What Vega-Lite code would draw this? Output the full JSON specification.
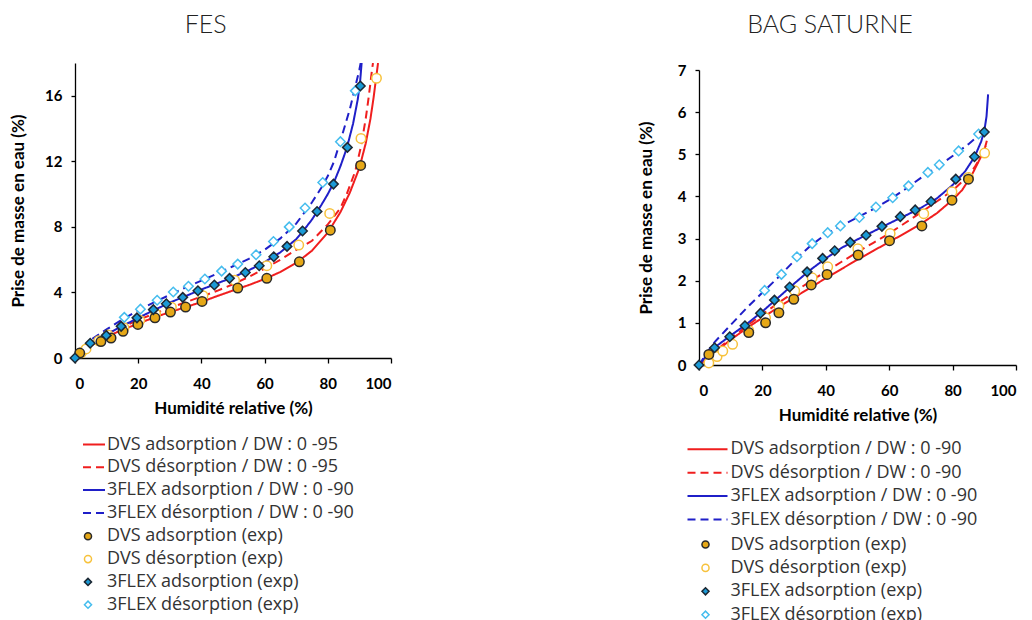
{
  "$schema": "https://vega.github.io/schema/vega-lite/v6.json",
  "background": "white",
  "padding": {"left": 9, "top": 13, "right": 5, "bottom": 0},
  "spacing": 245,
  "config": {
    "view": {"stroke": null},
    "axis": {
      "grid": false, "domainColor": "#000", "tickColor": "#000", "domainWidth": 1.3, "tickWidth": 1.3,
      "labelFont": "Lato", "labelFontWeight": "bold", "labelFontSize": 15, "labelColor": "#000",
      "titleFont": "Lato", "titleFontWeight": "bold", "titleFontSize": 17, "titleColor": "#000"
    },
    "title": {"font": "Lato", "fontWeight": 300, "fontSize": 25, "color": "#222", "anchor": "middle", "frame": "bounds"}
  },
  "datasets": {
    "fesFit": [
      {"fit": "DVS adsorption / DW : 0 -95", "rh": 0, "w": 0},
      {"fit": "DVS adsorption / DW : 0 -95", "rh": 2, "w": 0.35},
      {"fit": "DVS adsorption / DW : 0 -95", "rh": 5, "w": 0.75},
      {"fit": "DVS adsorption / DW : 0 -95", "rh": 10, "w": 1.3},
      {"fit": "DVS adsorption / DW : 0 -95", "rh": 15, "w": 1.72},
      {"fit": "DVS adsorption / DW : 0 -95", "rh": 20, "w": 2.1},
      {"fit": "DVS adsorption / DW : 0 -95", "rh": 25, "w": 2.47},
      {"fit": "DVS adsorption / DW : 0 -95", "rh": 30, "w": 2.8},
      {"fit": "DVS adsorption / DW : 0 -95", "rh": 35, "w": 3.1},
      {"fit": "DVS adsorption / DW : 0 -95", "rh": 40, "w": 3.42},
      {"fit": "DVS adsorption / DW : 0 -95", "rh": 45, "w": 3.78},
      {"fit": "DVS adsorption / DW : 0 -95", "rh": 50, "w": 4.12},
      {"fit": "DVS adsorption / DW : 0 -95", "rh": 55, "w": 4.45},
      {"fit": "DVS adsorption / DW : 0 -95", "rh": 60, "w": 4.82},
      {"fit": "DVS adsorption / DW : 0 -95", "rh": 65, "w": 5.25},
      {"fit": "DVS adsorption / DW : 0 -95", "rh": 70, "w": 5.8},
      {"fit": "DVS adsorption / DW : 0 -95", "rh": 75, "w": 6.55},
      {"fit": "DVS adsorption / DW : 0 -95", "rh": 80, "w": 7.65},
      {"fit": "DVS adsorption / DW : 0 -95", "rh": 84, "w": 8.9},
      {"fit": "DVS adsorption / DW : 0 -95", "rh": 87, "w": 10.1},
      {"fit": "DVS adsorption / DW : 0 -95", "rh": 90, "w": 11.6},
      {"fit": "DVS adsorption / DW : 0 -95", "rh": 92, "w": 13.1},
      {"fit": "DVS adsorption / DW : 0 -95", "rh": 93.5, "w": 14.6},
      {"fit": "DVS adsorption / DW : 0 -95", "rh": 94.5, "w": 15.9},
      {"fit": "DVS adsorption / DW : 0 -95", "rh": 95.3, "w": 17.1},
      {"fit": "DVS adsorption / DW : 0 -95", "rh": 95.9, "w": 18},
      {"fit": "DVS désorption / DW : 0 -95", "rh": 0, "w": 0},
      {"fit": "DVS désorption / DW : 0 -95", "rh": 2, "w": 0.4},
      {"fit": "DVS désorption / DW : 0 -95", "rh": 5, "w": 0.9},
      {"fit": "DVS désorption / DW : 0 -95", "rh": 10, "w": 1.45},
      {"fit": "DVS désorption / DW : 0 -95", "rh": 15, "w": 1.9},
      {"fit": "DVS désorption / DW : 0 -95", "rh": 20, "w": 2.32},
      {"fit": "DVS désorption / DW : 0 -95", "rh": 25, "w": 2.7},
      {"fit": "DVS désorption / DW : 0 -95", "rh": 30, "w": 3.05},
      {"fit": "DVS désorption / DW : 0 -95", "rh": 35, "w": 3.4},
      {"fit": "DVS désorption / DW : 0 -95", "rh": 40, "w": 3.75},
      {"fit": "DVS désorption / DW : 0 -95", "rh": 45, "w": 4.1},
      {"fit": "DVS désorption / DW : 0 -95", "rh": 50, "w": 4.5},
      {"fit": "DVS désorption / DW : 0 -95", "rh": 55, "w": 4.95},
      {"fit": "DVS désorption / DW : 0 -95", "rh": 60, "w": 5.45},
      {"fit": "DVS désorption / DW : 0 -95", "rh": 65, "w": 6.0},
      {"fit": "DVS désorption / DW : 0 -95", "rh": 70, "w": 6.6},
      {"fit": "DVS désorption / DW : 0 -95", "rh": 75, "w": 7.15},
      {"fit": "DVS désorption / DW : 0 -95", "rh": 80, "w": 8.15},
      {"fit": "DVS désorption / DW : 0 -95", "rh": 84, "w": 9.15},
      {"fit": "DVS désorption / DW : 0 -95", "rh": 86, "w": 10.0},
      {"fit": "DVS désorption / DW : 0 -95", "rh": 88.7, "w": 11.4},
      {"fit": "DVS désorption / DW : 0 -95", "rh": 90.5, "w": 12.9},
      {"fit": "DVS désorption / DW : 0 -95", "rh": 92, "w": 14.6},
      {"fit": "DVS désorption / DW : 0 -95", "rh": 93, "w": 16.0},
      {"fit": "DVS désorption / DW : 0 -95", "rh": 94, "w": 17.6},
      {"fit": "DVS désorption / DW : 0 -95", "rh": 94.3, "w": 18},
      {"fit": "3FLEX adsorption / DW : 0 -90", "rh": 0, "w": 0},
      {"fit": "3FLEX adsorption / DW : 0 -90", "rh": 2, "w": 0.45},
      {"fit": "3FLEX adsorption / DW : 0 -90", "rh": 5, "w": 0.95},
      {"fit": "3FLEX adsorption / DW : 0 -90", "rh": 10, "w": 1.45},
      {"fit": "3FLEX adsorption / DW : 0 -90", "rh": 15, "w": 1.95},
      {"fit": "3FLEX adsorption / DW : 0 -90", "rh": 20, "w": 2.45},
      {"fit": "3FLEX adsorption / DW : 0 -90", "rh": 25, "w": 2.92},
      {"fit": "3FLEX adsorption / DW : 0 -90", "rh": 30, "w": 3.38},
      {"fit": "3FLEX adsorption / DW : 0 -90", "rh": 35, "w": 3.78},
      {"fit": "3FLEX adsorption / DW : 0 -90", "rh": 40, "w": 4.18},
      {"fit": "3FLEX adsorption / DW : 0 -90", "rh": 45, "w": 4.55},
      {"fit": "3FLEX adsorption / DW : 0 -90", "rh": 50, "w": 4.93},
      {"fit": "3FLEX adsorption / DW : 0 -90", "rh": 55, "w": 5.35},
      {"fit": "3FLEX adsorption / DW : 0 -90", "rh": 60, "w": 5.85},
      {"fit": "3FLEX adsorption / DW : 0 -90", "rh": 65, "w": 6.45},
      {"fit": "3FLEX adsorption / DW : 0 -90", "rh": 70, "w": 7.25},
      {"fit": "3FLEX adsorption / DW : 0 -90", "rh": 72, "w": 7.7},
      {"fit": "3FLEX adsorption / DW : 0 -90", "rh": 75, "w": 8.45},
      {"fit": "3FLEX adsorption / DW : 0 -90", "rh": 78, "w": 9.35},
      {"fit": "3FLEX adsorption / DW : 0 -90", "rh": 80, "w": 10.0},
      {"fit": "3FLEX adsorption / DW : 0 -90", "rh": 82, "w": 10.75},
      {"fit": "3FLEX adsorption / DW : 0 -90", "rh": 84, "w": 11.7},
      {"fit": "3FLEX adsorption / DW : 0 -90", "rh": 86, "w": 12.8},
      {"fit": "3FLEX adsorption / DW : 0 -90", "rh": 88, "w": 14.3},
      {"fit": "3FLEX adsorption / DW : 0 -90", "rh": 89.5, "w": 15.8},
      {"fit": "3FLEX adsorption / DW : 0 -90", "rh": 90.2, "w": 16.8},
      {"fit": "3FLEX adsorption / DW : 0 -90", "rh": 90.7, "w": 18},
      {"fit": "3FLEX désorption / DW : 0 -90", "rh": 0, "w": 0},
      {"fit": "3FLEX désorption / DW : 0 -90", "rh": 2, "w": 0.55},
      {"fit": "3FLEX désorption / DW : 0 -90", "rh": 5, "w": 1.1},
      {"fit": "3FLEX désorption / DW : 0 -90", "rh": 10, "w": 1.75},
      {"fit": "3FLEX désorption / DW : 0 -90", "rh": 15, "w": 2.35},
      {"fit": "3FLEX désorption / DW : 0 -90", "rh": 20, "w": 2.9},
      {"fit": "3FLEX désorption / DW : 0 -90", "rh": 25, "w": 3.4},
      {"fit": "3FLEX désorption / DW : 0 -90", "rh": 30, "w": 3.85},
      {"fit": "3FLEX désorption / DW : 0 -90", "rh": 35, "w": 4.3},
      {"fit": "3FLEX désorption / DW : 0 -90", "rh": 40, "w": 4.72},
      {"fit": "3FLEX désorption / DW : 0 -90", "rh": 45, "w": 5.15},
      {"fit": "3FLEX désorption / DW : 0 -90", "rh": 50, "w": 5.6},
      {"fit": "3FLEX désorption / DW : 0 -90", "rh": 55, "w": 6.05},
      {"fit": "3FLEX désorption / DW : 0 -90", "rh": 60, "w": 6.6},
      {"fit": "3FLEX désorption / DW : 0 -90", "rh": 65, "w": 7.3},
      {"fit": "3FLEX désorption / DW : 0 -90", "rh": 70, "w": 8.2},
      {"fit": "3FLEX désorption / DW : 0 -90", "rh": 75, "w": 9.5},
      {"fit": "3FLEX désorption / DW : 0 -90", "rh": 78, "w": 10.4},
      {"fit": "3FLEX désorption / DW : 0 -90", "rh": 80, "w": 11.1},
      {"fit": "3FLEX désorption / DW : 0 -90", "rh": 82, "w": 12.0},
      {"fit": "3FLEX désorption / DW : 0 -90", "rh": 85, "w": 13.9},
      {"fit": "3FLEX désorption / DW : 0 -90", "rh": 87, "w": 15.2},
      {"fit": "3FLEX désorption / DW : 0 -90", "rh": 88.5, "w": 16.4},
      {"fit": "3FLEX désorption / DW : 0 -90", "rh": 90, "w": 17.6},
      {"fit": "3FLEX désorption / DW : 0 -90", "rh": 90.4, "w": 18}
    ],
    "fesExp": [
      {"exp": "DVS désorption (exp)", "rh": 2, "w": 0.32},
      {"exp": "DVS désorption (exp)", "rh": 3.5, "w": 0.55},
      {"exp": "DVS désorption (exp)", "rh": 7.5, "w": 1.05},
      {"exp": "DVS désorption (exp)", "rh": 10.5, "w": 1.4},
      {"exp": "DVS désorption (exp)", "rh": 15.5, "w": 1.85},
      {"exp": "DVS désorption (exp)", "rh": 20.5, "w": 2.3},
      {"exp": "DVS désorption (exp)", "rh": 25.5, "w": 2.7},
      {"exp": "DVS désorption (exp)", "rh": 30.5, "w": 3.1},
      {"exp": "DVS désorption (exp)", "rh": 40.5, "w": 3.8},
      {"exp": "DVS désorption (exp)", "rh": 50.5, "w": 4.75},
      {"exp": "DVS désorption (exp)", "rh": 60.7, "w": 5.63},
      {"exp": "DVS désorption (exp)", "rh": 70.8, "w": 6.89},
      {"exp": "DVS désorption (exp)", "rh": 80.6, "w": 8.82},
      {"exp": "DVS désorption (exp)", "rh": 90.5, "w": 13.4},
      {"exp": "DVS désorption (exp)", "rh": 95.4, "w": 17.07},
      {"exp": "DVS adsorption (exp)", "rh": 1.5, "w": 0.3},
      {"exp": "DVS adsorption (exp)", "rh": 8.2, "w": 1.0},
      {"exp": "DVS adsorption (exp)", "rh": 11.4, "w": 1.22},
      {"exp": "DVS adsorption (exp)", "rh": 15.2, "w": 1.63},
      {"exp": "DVS adsorption (exp)", "rh": 19.9, "w": 2.05},
      {"exp": "DVS adsorption (exp)", "rh": 25.3, "w": 2.45},
      {"exp": "DVS adsorption (exp)", "rh": 30.2, "w": 2.8},
      {"exp": "DVS adsorption (exp)", "rh": 35, "w": 3.11},
      {"exp": "DVS adsorption (exp)", "rh": 40.2, "w": 3.45},
      {"exp": "DVS adsorption (exp)", "rh": 51.5, "w": 4.27},
      {"exp": "DVS adsorption (exp)", "rh": 60.7, "w": 4.86},
      {"exp": "DVS adsorption (exp)", "rh": 71, "w": 5.87},
      {"exp": "DVS adsorption (exp)", "rh": 80.8, "w": 7.8},
      {"exp": "DVS adsorption (exp)", "rh": 90.4, "w": 11.75},
      {"exp": "3FLEX désorption (exp)", "rh": 15.6, "w": 2.48},
      {"exp": "3FLEX désorption (exp)", "rh": 20.7, "w": 2.98},
      {"exp": "3FLEX désorption (exp)", "rh": 26, "w": 3.52},
      {"exp": "3FLEX désorption (exp)", "rh": 31.1, "w": 4.03},
      {"exp": "3FLEX désorption (exp)", "rh": 35.9, "w": 4.38},
      {"exp": "3FLEX désorption (exp)", "rh": 41.1, "w": 4.82},
      {"exp": "3FLEX désorption (exp)", "rh": 46.4, "w": 5.3},
      {"exp": "3FLEX désorption (exp)", "rh": 51.5, "w": 5.73},
      {"exp": "3FLEX désorption (exp)", "rh": 57.3, "w": 6.3},
      {"exp": "3FLEX désorption (exp)", "rh": 62.8, "w": 7.11},
      {"exp": "3FLEX désorption (exp)", "rh": 67.8, "w": 8.0},
      {"exp": "3FLEX désorption (exp)", "rh": 72.8, "w": 9.15},
      {"exp": "3FLEX désorption (exp)", "rh": 78.4, "w": 10.71},
      {"exp": "3FLEX désorption (exp)", "rh": 84, "w": 13.2},
      {"exp": "3FLEX désorption (exp)", "rh": 88.7, "w": 16.3},
      {"exp": "3FLEX adsorption (exp)", "rh": 0, "w": 0},
      {"exp": "3FLEX adsorption (exp)", "rh": 4.8, "w": 0.9},
      {"exp": "3FLEX adsorption (exp)", "rh": 9.9, "w": 1.38},
      {"exp": "3FLEX adsorption (exp)", "rh": 14.6, "w": 1.93},
      {"exp": "3FLEX adsorption (exp)", "rh": 19.6, "w": 2.45},
      {"exp": "3FLEX adsorption (exp)", "rh": 24.8, "w": 2.95},
      {"exp": "3FLEX adsorption (exp)", "rh": 28.9, "w": 3.31},
      {"exp": "3FLEX adsorption (exp)", "rh": 34.1, "w": 3.7},
      {"exp": "3FLEX adsorption (exp)", "rh": 38.9, "w": 4.1},
      {"exp": "3FLEX adsorption (exp)", "rh": 44.1, "w": 4.45},
      {"exp": "3FLEX adsorption (exp)", "rh": 48.9, "w": 4.86},
      {"exp": "3FLEX adsorption (exp)", "rh": 53.9, "w": 5.22},
      {"exp": "3FLEX adsorption (exp)", "rh": 58.3, "w": 5.63},
      {"exp": "3FLEX adsorption (exp)", "rh": 62.9, "w": 6.18},
      {"exp": "3FLEX adsorption (exp)", "rh": 67.1, "w": 6.81},
      {"exp": "3FLEX adsorption (exp)", "rh": 72, "w": 7.75},
      {"exp": "3FLEX adsorption (exp)", "rh": 76.6, "w": 8.94},
      {"exp": "3FLEX adsorption (exp)", "rh": 81.8, "w": 10.61},
      {"exp": "3FLEX adsorption (exp)", "rh": 86.2, "w": 12.85},
      {"exp": "3FLEX adsorption (exp)", "rh": 90.3, "w": 16.6}
    ],
    "bagFit": [
      {"fit": "DVS adsorption / DW : 0 -90", "rh": 0, "w": 0},
      {"fit": "DVS adsorption / DW : 0 -90", "rh": 3, "w": 0.18},
      {"fit": "DVS adsorption / DW : 0 -90", "rh": 5, "w": 0.3},
      {"fit": "DVS adsorption / DW : 0 -90", "rh": 10, "w": 0.6},
      {"fit": "DVS adsorption / DW : 0 -90", "rh": 15, "w": 0.87},
      {"fit": "DVS adsorption / DW : 0 -90", "rh": 20, "w": 1.12},
      {"fit": "DVS adsorption / DW : 0 -90", "rh": 25, "w": 1.37},
      {"fit": "DVS adsorption / DW : 0 -90", "rh": 30, "w": 1.6},
      {"fit": "DVS adsorption / DW : 0 -90", "rh": 35, "w": 1.83},
      {"fit": "DVS adsorption / DW : 0 -90", "rh": 40, "w": 2.06},
      {"fit": "DVS adsorption / DW : 0 -90", "rh": 45, "w": 2.28},
      {"fit": "DVS adsorption / DW : 0 -90", "rh": 50, "w": 2.5},
      {"fit": "DVS adsorption / DW : 0 -90", "rh": 55, "w": 2.71},
      {"fit": "DVS adsorption / DW : 0 -90", "rh": 60, "w": 2.92},
      {"fit": "DVS adsorption / DW : 0 -90", "rh": 65, "w": 3.13},
      {"fit": "DVS adsorption / DW : 0 -90", "rh": 70, "w": 3.35},
      {"fit": "DVS adsorption / DW : 0 -90", "rh": 75, "w": 3.6},
      {"fit": "DVS adsorption / DW : 0 -90", "rh": 80, "w": 3.92},
      {"fit": "DVS adsorption / DW : 0 -90", "rh": 83, "w": 4.15},
      {"fit": "DVS adsorption / DW : 0 -90", "rh": 86, "w": 4.5},
      {"fit": "DVS adsorption / DW : 0 -90", "rh": 88, "w": 4.8},
      {"fit": "DVS adsorption / DW : 0 -90", "rh": 90, "w": 5.1},
      {"fit": "DVS adsorption / DW : 0 -90", "rh": 90.8, "w": 5.32},
      {"fit": "DVS désorption / DW : 0 -90", "rh": 0, "w": 0},
      {"fit": "DVS désorption / DW : 0 -90", "rh": 5, "w": 0.32},
      {"fit": "DVS désorption / DW : 0 -90", "rh": 10, "w": 0.63},
      {"fit": "DVS désorption / DW : 0 -90", "rh": 15, "w": 0.92},
      {"fit": "DVS désorption / DW : 0 -90", "rh": 20, "w": 1.2},
      {"fit": "DVS désorption / DW : 0 -90", "rh": 25, "w": 1.47},
      {"fit": "DVS désorption / DW : 0 -90", "rh": 30, "w": 1.73},
      {"fit": "DVS désorption / DW : 0 -90", "rh": 35, "w": 1.98},
      {"fit": "DVS désorption / DW : 0 -90", "rh": 40, "w": 2.22},
      {"fit": "DVS désorption / DW : 0 -90", "rh": 45, "w": 2.45},
      {"fit": "DVS désorption / DW : 0 -90", "rh": 50, "w": 2.68},
      {"fit": "DVS désorption / DW : 0 -90", "rh": 55, "w": 2.9},
      {"fit": "DVS désorption / DW : 0 -90", "rh": 60, "w": 3.12},
      {"fit": "DVS désorption / DW : 0 -90", "rh": 65, "w": 3.37},
      {"fit": "DVS désorption / DW : 0 -90", "rh": 70, "w": 3.62},
      {"fit": "DVS désorption / DW : 0 -90", "rh": 75, "w": 3.88},
      {"fit": "DVS désorption / DW : 0 -90", "rh": 80, "w": 4.14},
      {"fit": "DVS désorption / DW : 0 -90", "rh": 84, "w": 4.42},
      {"fit": "DVS désorption / DW : 0 -90", "rh": 87, "w": 4.7},
      {"fit": "DVS désorption / DW : 0 -90", "rh": 89, "w": 4.95},
      {"fit": "DVS désorption / DW : 0 -90", "rh": 90.5, "w": 5.2},
      {"fit": "3FLEX adsorption / DW : 0 -90", "rh": 0, "w": 0},
      {"fit": "3FLEX adsorption / DW : 0 -90", "rh": 3, "w": 0.28},
      {"fit": "3FLEX adsorption / DW : 0 -90", "rh": 5, "w": 0.42},
      {"fit": "3FLEX adsorption / DW : 0 -90", "rh": 10, "w": 0.7},
      {"fit": "3FLEX adsorption / DW : 0 -90", "rh": 15, "w": 0.97},
      {"fit": "3FLEX adsorption / DW : 0 -90", "rh": 20, "w": 1.27},
      {"fit": "3FLEX adsorption / DW : 0 -90", "rh": 25, "w": 1.6},
      {"fit": "3FLEX adsorption / DW : 0 -90", "rh": 30, "w": 1.93},
      {"fit": "3FLEX adsorption / DW : 0 -90", "rh": 35, "w": 2.25},
      {"fit": "3FLEX adsorption / DW : 0 -90", "rh": 40, "w": 2.53},
      {"fit": "3FLEX adsorption / DW : 0 -90", "rh": 45, "w": 2.78},
      {"fit": "3FLEX adsorption / DW : 0 -90", "rh": 50, "w": 2.98},
      {"fit": "3FLEX adsorption / DW : 0 -90", "rh": 55, "w": 3.17},
      {"fit": "3FLEX adsorption / DW : 0 -90", "rh": 60, "w": 3.36},
      {"fit": "3FLEX adsorption / DW : 0 -90", "rh": 65, "w": 3.54},
      {"fit": "3FLEX adsorption / DW : 0 -90", "rh": 70, "w": 3.73},
      {"fit": "3FLEX adsorption / DW : 0 -90", "rh": 75, "w": 3.95},
      {"fit": "3FLEX adsorption / DW : 0 -90", "rh": 80, "w": 4.27},
      {"fit": "3FLEX adsorption / DW : 0 -90", "rh": 84, "w": 4.6},
      {"fit": "3FLEX adsorption / DW : 0 -90", "rh": 87, "w": 4.95},
      {"fit": "3FLEX adsorption / DW : 0 -90", "rh": 89, "w": 5.3},
      {"fit": "3FLEX adsorption / DW : 0 -90", "rh": 90, "w": 5.55},
      {"fit": "3FLEX adsorption / DW : 0 -90", "rh": 90.7, "w": 5.9},
      {"fit": "3FLEX adsorption / DW : 0 -90", "rh": 91.2, "w": 6.42},
      {"fit": "3FLEX désorption / DW : 0 -90", "rh": 0, "w": 0},
      {"fit": "3FLEX désorption / DW : 0 -90", "rh": 3, "w": 0.35},
      {"fit": "3FLEX désorption / DW : 0 -90", "rh": 5, "w": 0.55},
      {"fit": "3FLEX désorption / DW : 0 -90", "rh": 10, "w": 0.95},
      {"fit": "3FLEX désorption / DW : 0 -90", "rh": 15, "w": 1.35},
      {"fit": "3FLEX désorption / DW : 0 -90", "rh": 20, "w": 1.72},
      {"fit": "3FLEX désorption / DW : 0 -90", "rh": 25, "w": 2.08},
      {"fit": "3FLEX désorption / DW : 0 -90", "rh": 30, "w": 2.47},
      {"fit": "3FLEX désorption / DW : 0 -90", "rh": 35, "w": 2.82},
      {"fit": "3FLEX désorption / DW : 0 -90", "rh": 40, "w": 3.1},
      {"fit": "3FLEX désorption / DW : 0 -90", "rh": 45, "w": 3.31},
      {"fit": "3FLEX désorption / DW : 0 -90", "rh": 50, "w": 3.5},
      {"fit": "3FLEX désorption / DW : 0 -90", "rh": 55, "w": 3.7},
      {"fit": "3FLEX désorption / DW : 0 -90", "rh": 60, "w": 3.92},
      {"fit": "3FLEX désorption / DW : 0 -90", "rh": 65, "w": 4.17},
      {"fit": "3FLEX désorption / DW : 0 -90", "rh": 70, "w": 4.44},
      {"fit": "3FLEX désorption / DW : 0 -90", "rh": 75, "w": 4.69},
      {"fit": "3FLEX désorption / DW : 0 -90", "rh": 80, "w": 4.96},
      {"fit": "3FLEX désorption / DW : 0 -90", "rh": 85, "w": 5.24},
      {"fit": "3FLEX désorption / DW : 0 -90", "rh": 88, "w": 5.43},
      {"fit": "3FLEX désorption / DW : 0 -90", "rh": 90, "w": 5.58}
    ],
    "bagExp": [
      {"exp": "DVS désorption (exp)", "rh": 3.1, "w": 0.05},
      {"exp": "DVS désorption (exp)", "rh": 5.7, "w": 0.2},
      {"exp": "DVS désorption (exp)", "rh": 7.5, "w": 0.33},
      {"exp": "DVS désorption (exp)", "rh": 10.6, "w": 0.49},
      {"exp": "DVS désorption (exp)", "rh": 15.7, "w": 0.82},
      {"exp": "DVS désorption (exp)", "rh": 21, "w": 1.12},
      {"exp": "DVS désorption (exp)", "rh": 25.2, "w": 1.4},
      {"exp": "DVS désorption (exp)", "rh": 30.2, "w": 1.76},
      {"exp": "DVS désorption (exp)", "rh": 35.7, "w": 2.07},
      {"exp": "DVS désorption (exp)", "rh": 40.6, "w": 2.33},
      {"exp": "DVS désorption (exp)", "rh": 50.1, "w": 2.76},
      {"exp": "DVS désorption (exp)", "rh": 60.3, "w": 3.12},
      {"exp": "DVS désorption (exp)", "rh": 70.9, "w": 3.59},
      {"exp": "DVS désorption (exp)", "rh": 79.8, "w": 4.11},
      {"exp": "DVS désorption (exp)", "rh": 85, "w": 4.45},
      {"exp": "DVS désorption (exp)", "rh": 90.1, "w": 5.03},
      {"exp": "DVS adsorption (exp)", "rh": 3.1, "w": 0.25},
      {"exp": "DVS adsorption (exp)", "rh": 15.7, "w": 0.77},
      {"exp": "DVS adsorption (exp)", "rh": 21, "w": 1.0},
      {"exp": "DVS adsorption (exp)", "rh": 25.2, "w": 1.24},
      {"exp": "DVS adsorption (exp)", "rh": 29.9, "w": 1.56},
      {"exp": "DVS adsorption (exp)", "rh": 35.4, "w": 1.9},
      {"exp": "DVS adsorption (exp)", "rh": 40.4, "w": 2.15},
      {"exp": "DVS adsorption (exp)", "rh": 50.2, "w": 2.61},
      {"exp": "DVS adsorption (exp)", "rh": 60.1, "w": 2.95},
      {"exp": "DVS adsorption (exp)", "rh": 70.3, "w": 3.3},
      {"exp": "DVS adsorption (exp)", "rh": 79.8, "w": 3.91},
      {"exp": "DVS adsorption (exp)", "rh": 85, "w": 4.41},
      {"exp": "3FLEX désorption (exp)", "rh": 20.7, "w": 1.77},
      {"exp": "3FLEX désorption (exp)", "rh": 26, "w": 2.15},
      {"exp": "3FLEX désorption (exp)", "rh": 30.9, "w": 2.57},
      {"exp": "3FLEX désorption (exp)", "rh": 35.7, "w": 2.88},
      {"exp": "3FLEX désorption (exp)", "rh": 40.6, "w": 3.14},
      {"exp": "3FLEX désorption (exp)", "rh": 44.6, "w": 3.3},
      {"exp": "3FLEX désorption (exp)", "rh": 50.6, "w": 3.5},
      {"exp": "3FLEX désorption (exp)", "rh": 55.8, "w": 3.75},
      {"exp": "3FLEX désorption (exp)", "rh": 61.1, "w": 3.97},
      {"exp": "3FLEX désorption (exp)", "rh": 66.1, "w": 4.25},
      {"exp": "3FLEX désorption (exp)", "rh": 72.2, "w": 4.57},
      {"exp": "3FLEX désorption (exp)", "rh": 75.8, "w": 4.75},
      {"exp": "3FLEX désorption (exp)", "rh": 81.9, "w": 5.08},
      {"exp": "3FLEX désorption (exp)", "rh": 88.2, "w": 5.48},
      {"exp": "3FLEX adsorption (exp)", "rh": 0, "w": 0},
      {"exp": "3FLEX adsorption (exp)", "rh": 4.9, "w": 0.41},
      {"exp": "3FLEX adsorption (exp)", "rh": 9.7, "w": 0.67},
      {"exp": "3FLEX adsorption (exp)", "rh": 14.5, "w": 0.93},
      {"exp": "3FLEX adsorption (exp)", "rh": 19.4, "w": 1.23},
      {"exp": "3FLEX adsorption (exp)", "rh": 23.8, "w": 1.54},
      {"exp": "3FLEX adsorption (exp)", "rh": 28.6, "w": 1.85},
      {"exp": "3FLEX adsorption (exp)", "rh": 34.1, "w": 2.21},
      {"exp": "3FLEX adsorption (exp)", "rh": 39, "w": 2.53},
      {"exp": "3FLEX adsorption (exp)", "rh": 42.8, "w": 2.71},
      {"exp": "3FLEX adsorption (exp)", "rh": 47.7, "w": 2.91},
      {"exp": "3FLEX adsorption (exp)", "rh": 52.7, "w": 3.08},
      {"exp": "3FLEX adsorption (exp)", "rh": 57.7, "w": 3.29},
      {"exp": "3FLEX adsorption (exp)", "rh": 63.5, "w": 3.52},
      {"exp": "3FLEX adsorption (exp)", "rh": 68.2, "w": 3.68},
      {"exp": "3FLEX adsorption (exp)", "rh": 73.2, "w": 3.88},
      {"exp": "3FLEX adsorption (exp)", "rh": 81, "w": 4.41},
      {"exp": "3FLEX adsorption (exp)", "rh": 86.9, "w": 4.94},
      {"exp": "3FLEX adsorption (exp)", "rh": 90, "w": 5.53}
    ]
  },
  "hconcat": [
    {
      "title": {"text": "FES", "offset": 25, "dx": 5},
      "width": 316,
      "height": 295,
      "layer": [
        {
          "data": {"name": "fesFit"},
          "mark": {"type": "line", "strokeWidth": 2, "clip": true},
          "encoding": {
            "x": {"field": "rh", "type": "quantitative", "scale": {"domain": [0, 100], "nice": false},
              "axis": {"title": "Humidité relative (%)", "values": [0,10,20,30,40,50,60,70,80,90,100], "labelExpr": "datum.value % 20 === 0 ? datum.label : ''", "tickSize": 5, "labelPadding": 13.5, "titlePadding": 8.5}},
            "y": {"field": "w", "type": "quantitative", "scale": {"domain": [0, 18], "nice": false},
              "axis": {"title": "Prise de masse en eau (%)", "values": [0,2,4,6,8,10,12,14,16,18], "labelExpr": "datum.value % 4 === 0 ? datum.label : ''", "tickSize": 4, "labelPadding": 9, "titlePadding": 17}},
            "color": {"field": "fit", "type": "nominal",
              "scale": {"domain": ["DVS adsorption / DW : 0 -95", "DVS désorption / DW : 0 -95", "3FLEX adsorption / DW : 0 -90", "3FLEX désorption / DW : 0 -90"], "range": ["#F01E1E", "#F01E1E", "#1F1FC8", "#1F1FC8"]},
              "legend": {"title": null, "orient": "none", "legendX": 0, "legendY": 372.5, "padding": 0, "symbolType": "M-0.2,0H4.2", "symbolSize": 100, "symbolStrokeWidth": 2, "symbolOffset": 0, "labelOffset": 14, "labelFont": "Open Sans", "labelFontSize": 18, "labelColor": "#333", "labelLimit": 400, "rowPadding": 4.8}},
            "strokeDash": {"field": "fit", "type": "nominal",
              "scale": {"domain": ["DVS adsorption / DW : 0 -95", "DVS désorption / DW : 0 -95", "3FLEX adsorption / DW : 0 -90", "3FLEX désorption / DW : 0 -90"], "range": [[1, 0], [8, 5], [1, 0], [8, 5]]},
              "legend": {"title": null, "orient": "none", "legendX": 0, "legendY": 372.5, "padding": 0, "symbolType": "M-0.2,0H4.2", "symbolSize": 100, "symbolStrokeWidth": 2, "symbolOffset": 0, "labelOffset": 14, "labelFont": "Open Sans", "labelFontSize": 18, "labelColor": "#333", "labelLimit": 400, "rowPadding": 4.8}}
          }
        },
        {
          "data": {"name": "fesExp"},
          "mark": {"type": "point", "filled": true, "opacity": 1, "strokeWidth": 1.5, "size": 90},
          "encoding": {
            "x": {"field": "rh", "type": "quantitative"},
            "y": {"field": "w", "type": "quantitative"},
            "shape": {"field": "exp", "type": "nominal",
              "scale": {"domain": ["DVS adsorption (exp)", "DVS désorption (exp)", "3FLEX adsorption (exp)", "3FLEX désorption (exp)"], "range": ["circle", "circle", "diamond", "diamond"]},
              "legend": {"title": null, "orient": "none", "legendX": 0, "legendY": 464.3, "padding": 0, "symbolSize": 50, "symbolStrokeWidth": 1.5, "symbolOpacity": 1, "symbolOffset": 4, "labelOffset": 10, "labelFont": "Open Sans", "labelFontSize": 18, "labelColor": "#333", "labelLimit": 400, "rowPadding": 4.8}},
            "fill": {"field": "exp", "type": "nominal",
              "scale": {"domain": ["DVS adsorption (exp)", "DVS désorption (exp)", "3FLEX adsorption (exp)", "3FLEX désorption (exp)"], "range": ["#E6A817", "#FFFFFF", "#1B9AD6", "#FFFFFF"]},
              "legend": {"title": null, "orient": "none", "legendX": 0, "legendY": 464.3, "padding": 0, "symbolSize": 50, "symbolStrokeWidth": 1.5, "symbolOpacity": 1, "symbolOffset": 4, "labelOffset": 10, "labelFont": "Open Sans", "labelFontSize": 18, "labelColor": "#333", "labelLimit": 400, "rowPadding": 4.8}},
            "stroke": {"field": "exp", "type": "nominal",
              "scale": {"domain": ["DVS adsorption (exp)", "DVS désorption (exp)", "3FLEX adsorption (exp)", "3FLEX désorption (exp)"], "range": ["#2A2A2A", "#F7C23C", "#1C2833", "#45BDEE"]},
              "legend": {"title": null, "orient": "none", "legendX": 0, "legendY": 464.3, "padding": 0, "symbolSize": 50, "symbolStrokeWidth": 1.5, "symbolOpacity": 1, "symbolOffset": 4, "labelOffset": 10, "labelFont": "Open Sans", "labelFontSize": 18, "labelColor": "#333", "labelLimit": 400, "rowPadding": 4.8}}
          }
        }
      ]
    },
    {
      "title": {"text": "BAG SATURNE", "offset": 25, "dx": 3},
      "width": 317,
      "height": 302,
      "layer": [
        {
          "data": {"name": "bagFit"},
          "mark": {"type": "line", "strokeWidth": 2, "clip": true},
          "encoding": {
            "x": {"field": "rh", "type": "quantitative", "scale": {"domain": [0, 100], "nice": false},
              "axis": {"title": "Humidité relative (%)", "values": [0,10,20,30,40,50,60,70,80,90,100], "labelExpr": "datum.value % 20 === 0 ? datum.label : ''", "tickSize": 5, "labelPadding": 13.5, "titlePadding": 8.5}},
            "y": {"field": "w", "type": "quantitative", "scale": {"domain": [0, 7], "nice": false, "range": [302, 7]},
              "axis": {"title": "Prise de masse en eau (%)", "values": [0,0.5,1,1.5,2,2.5,3,3.5,4,4.5,5,5.5,6,6.5,7], "labelExpr": "datum.value % 1 === 0 ? datum.label : ''", "tickSize": 4, "labelPadding": 9, "titlePadding": 22}},
            "color": {"field": "fit", "type": "nominal",
              "scale": {"domain": ["DVS adsorption / DW : 0 -90", "DVS désorption / DW : 0 -90", "3FLEX adsorption / DW : 0 -90", "3FLEX désorption / DW : 0 -90"], "range": ["#F01E1E", "#F01E1E", "#1F1FC8", "#1F1FC8"]},
              "legend": {"title": null, "orient": "none", "legendX": -15, "legendY": 377.3, "padding": 0, "symbolType": "M-1.1,0H6.9", "symbolSize": 100, "symbolStrokeWidth": 2, "symbolOffset": 0, "labelOffset": 28.5, "labelFont": "Open Sans", "labelFontSize": 18, "labelColor": "#333", "labelLimit": 400, "rowPadding": 5.4}},
            "strokeDash": {"field": "fit", "type": "nominal",
              "scale": {"domain": ["DVS adsorption / DW : 0 -90", "DVS désorption / DW : 0 -90", "3FLEX adsorption / DW : 0 -90", "3FLEX désorption / DW : 0 -90"], "range": [[1, 0], [8, 5], [1, 0], [8, 5]]},
              "legend": {"title": null, "orient": "none", "legendX": -15, "legendY": 377.3, "padding": 0, "symbolType": "M-1.1,0H6.9", "symbolSize": 100, "symbolStrokeWidth": 2, "symbolOffset": 0, "labelOffset": 28.5, "labelFont": "Open Sans", "labelFontSize": 18, "labelColor": "#333", "labelLimit": 400, "rowPadding": 5.4}}
          }
        },
        {
          "data": {"name": "bagExp"},
          "mark": {"type": "point", "filled": true, "opacity": 1, "strokeWidth": 1.5, "size": 90},
          "encoding": {
            "x": {"field": "rh", "type": "quantitative"},
            "y": {"field": "w", "type": "quantitative"},
            "shape": {"field": "exp", "type": "nominal",
              "scale": {"domain": ["DVS adsorption (exp)", "DVS désorption (exp)", "3FLEX adsorption (exp)", "3FLEX désorption (exp)"], "range": ["circle", "circle", "diamond", "diamond"]},
              "legend": {"title": null, "orient": "none", "legendX": -15, "legendY": 472.5, "padding": 0, "symbolSize": 50, "symbolStrokeWidth": 1.5, "symbolOpacity": 1, "symbolOffset": 12.5, "labelOffset": 16, "labelFont": "Open Sans", "labelFontSize": 18, "labelColor": "#333", "labelLimit": 400, "rowPadding": 5.4}},
            "fill": {"field": "exp", "type": "nominal",
              "scale": {"domain": ["DVS adsorption (exp)", "DVS désorption (exp)", "3FLEX adsorption (exp)", "3FLEX désorption (exp)"], "range": ["#E6A817", "#FFFFFF", "#1B9AD6", "#FFFFFF"]},
              "legend": {"title": null, "orient": "none", "legendX": -15, "legendY": 472.5, "padding": 0, "symbolSize": 50, "symbolStrokeWidth": 1.5, "symbolOpacity": 1, "symbolOffset": 12.5, "labelOffset": 16, "labelFont": "Open Sans", "labelFontSize": 18, "labelColor": "#333", "labelLimit": 400, "rowPadding": 5.4}},
            "stroke": {"field": "exp", "type": "nominal",
              "scale": {"domain": ["DVS adsorption (exp)", "DVS désorption (exp)", "3FLEX adsorption (exp)", "3FLEX désorption (exp)"], "range": ["#2A2A2A", "#F7C23C", "#1C2833", "#45BDEE"]},
              "legend": {"title": null, "orient": "none", "legendX": -15, "legendY": 472.5, "padding": 0, "symbolSize": 50, "symbolStrokeWidth": 1.5, "symbolOpacity": 1, "symbolOffset": 12.5, "labelOffset": 16, "labelFont": "Open Sans", "labelFontSize": 18, "labelColor": "#333", "labelLimit": 400, "rowPadding": 5.4}}
          }
        }
      ]
    }
  ],
  "resolve": {
    "scale": {"x": "independent", "y": "independent", "color": "independent", "strokeDash": "independent", "shape": "independent", "fill": "independent", "stroke": "independent"},
    "legend": {"color": "independent", "strokeDash": "independent", "shape": "independent", "fill": "independent", "stroke": "independent"}
  }
}
